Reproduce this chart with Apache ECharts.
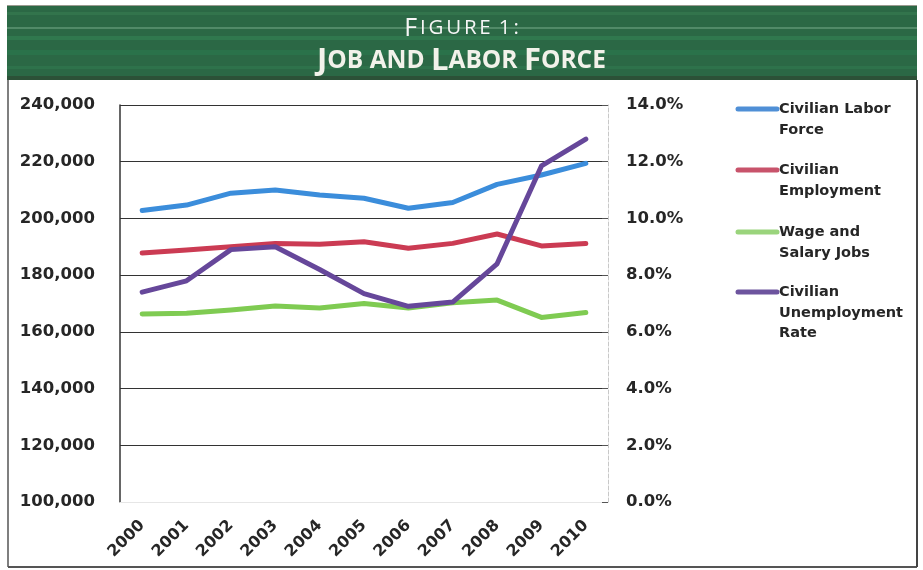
<!DOCTYPE html>
<html>
<head>
<meta charset="utf-8">
<title>Job and Labor Force</title>
<script src="https://cdn.jsdelivr.net/npm/echarts@6/dist/echarts.min.js"></script>
<style>
  html, body { margin: 0; padding: 0; background: #ffffff; }
  #chart { width: 923px; height: 570px; }
</style>
</head>
<body>
<div id="chart"></div>
<script>
// Years on the category axis
const years = ['2000', '2001', '2002', '2003', '2004', '2005', '2006', '2007', '2008', '2009', '2010'];

// Workforce counts (left axis)
const laborForce = [202800, 204700, 208900, 210000, 208300, 207100, 203600, 205600, 212000, 215300, 219400];
const employment = [187800, 188900, 190000, 191200, 190900, 191800, 189500, 191200, 194500, 190300, 191200];
const wageSalaryJobs = [166300, 166600, 167700, 169100, 168400, 170000, 168400, 170300, 171200, 165100, 166800];

// Unemployment rate in percent (right axis)
const unemploymentRate = [7.4, 7.8, 8.9, 9.0, 8.2, 7.35, 6.9, 7.05, 8.4, 11.85, 12.8];

// Series names as shown in the key, with their line breaks
const seriesNames = ['Civilian Labor\nForce', 'Civilian\nEmployment', 'Wage and\nSalary Jobs', 'Civilian\nUnemployment\nRate'];
const seriesColors = ['#3b8ddb', '#cb3b53', '#7fcb52', '#66479a'];
const legendColors = ['#4f8fd6', '#c8536b', '#9ad47c', '#6d549e'];

// Left and right tick values
const leftTicks = [100000, 120000, 140000, 160000, 180000, 200000, 220000, 240000];
const rightTicks = [0, 2, 4, 6, 8, 10, 12, 14];

// Heading lines (set in small caps)
const headingLine1 = 'Figure 1:';
const headingLine2 = 'Job and Labor Force';

const chart = echarts.init(document.getElementById('chart'));
const FONT = 'DejaVu Sans';
const INK = '#262626';

// Key on the right: line swatch beside wrapped text
const legendTops = [109, 170, 232, 292];
const legendGraphics = [];
seriesNames.forEach((name, i) => {
  legendGraphics.push({
    type: 'line',
    shape: { x1: 738, y1: legendTops[i], x2: 777, y2: legendTops[i] },
    style: { stroke: legendColors[i], lineWidth: 5, lineCap: 'round' }
  });
  legendGraphics.push({
    type: 'text',
    left: 779,
    top: legendTops[i] - 10,
    style: {
      text: name,
      font: 'bold 14.5px "' + FONT + '"',
      fill: INK,
      lineHeight: 20.5
    }
  });
});

// Banner with faint horizontal banding
const bannerBands = [
  { y: 12, h: 3, c: 'rgba(70,150,100,0.25)' },
  { y: 27, h: 2, c: 'rgba(170,220,185,0.30)' },
  { y: 36, h: 4, c: 'rgba(60,160,100,0.30)' },
  { y: 50, h: 5, c: 'rgba(40,140,85,0.30)' },
  { y: 66, h: 3, c: 'rgba(60,150,100,0.22)' },
  { y: 76, h: 4, c: 'rgba(45,40,30,0.35)' }
];
const bannerGraphics = [
  { type: 'rect', shape: { x: 7, y: 6, width: 910, height: 74 }, style: { fill: '#2b6845' } },
  { type: 'line', shape: { x1: 7, y1: 5.5, x2: 917, y2: 5.5 }, style: { stroke: '#9a9a90', lineWidth: 1 } }
].concat(bannerBands.map(b => ({
  type: 'rect',
  shape: { x: 7, y: b.y, width: 910, height: b.h },
  style: { fill: b.c }
})));

// Small caps: capitals stay full size, lower-case letters become smaller capitals
function smallCaps(line, spaced) {
  let out = '';
  for (const ch of line) {
    if (ch === ' ') { out += '{sp| }'; continue; }
    const key = /[A-Z]/.test(ch) ? 'big' : 'small';
    out += '{' + key + (spaced ? 'S' : '') + '|' + ch.toUpperCase() + '}';
  }
  return out;
}

const titleGraphics = [
  {
    type: 'text', left: 'center', top: 16,
    style: {
      text: smallCaps(headingLine1, true),
      rich: {
        bigS: { fontFamily: 'Open Sans', fontSize: 25, fill: '#f6f6f6', padding: [0, 1.4] },
        smallS: { fontFamily: 'Open Sans', fontSize: 20.5, fill: '#f6f6f6', padding: [0, 1.4] },
        sp: { fontFamily: 'Open Sans', fontSize: 20.5 }
      }
    }
  },
  {
    type: 'text', left: 'center', top: 46,
    style: {
      text: smallCaps(headingLine2, false),
      rich: {
        big: { fontFamily: 'Open Sans', fontSize: 31, fontWeight: 'bold', fill: '#f2f2ea' },
        small: { fontFamily: 'Open Sans', fontSize: 24.5, fontWeight: 'bold', fill: '#f2f2ea' },
        sp: { fontFamily: 'Open Sans', fontSize: 24.5, fontWeight: 'bold' }
      }
    }
  }
];

// Outer frame of the figure
const frameGraphics = [
  { type: 'line', shape: { x1: 8, y1: 80, x2: 8, y2: 567 }, style: { stroke: '#555', lineWidth: 1.5 } },
  { type: 'line', shape: { x1: 8, y1: 567, x2: 917, y2: 567 }, style: { stroke: '#555', lineWidth: 2 } },
  { type: 'line', shape: { x1: 917, y1: 80, x2: 917, y2: 567 }, style: { stroke: '#444', lineWidth: 2 } }
];

const option = {
  backgroundColor: '#ffffff',
  animation: false,
  grid: { left: 120, right: 315, top: 105, bottom: 68, containLabel: false },
  xAxis: {
    type: 'category',
    data: years,
    boundaryGap: true,
    axisLine: { show: true, lineStyle: { color: '#e6e6e6', width: 1 } },
    axisTick: { show: false },
    axisLabel: {
      rotate: 45,
      margin: 21,
      fontFamily: FONT,
      fontSize: 16,
      fontWeight: 'bold',
      color: INK
    },
    splitLine: { show: false }
  },
  yAxis: [
    {
      type: 'value',
      min: leftTicks[0],
      max: leftTicks[leftTicks.length - 1],
      interval: leftTicks[1] - leftTicks[0],
      position: 'left',
      axisLine: { show: true, lineStyle: { color: '#333333', width: 1.5 } },
      axisTick: { show: false },
      axisLabel: {
        margin: 25,
        fontFamily: FONT,
        fontSize: 16.5,
        fontWeight: 'bold',
        color: INK,
        formatter: v => v.toLocaleString('en-US')
      },
      splitLine: { show: true, lineStyle: { color: '#333333', width: 1 } }
    },
    {
      type: 'value',
      min: rightTicks[0],
      max: rightTicks[rightTicks.length - 1],
      interval: rightTicks[1] - rightTicks[0],
      position: 'right',
      axisLine: { show: true, lineStyle: { color: '#c8c8c8', width: 1, type: 'dashed' } },
      axisTick: { show: true, inside: true, length: 6, lineStyle: { color: '#555555' } },
      axisLabel: {
        margin: 18,
        fontFamily: FONT,
        fontSize: 16.5,
        fontWeight: 'bold',
        color: INK,
        formatter: v => v.toFixed(1) + '%'
      },
      splitLine: { show: false }
    }
  ],
  series: [
    { name: seriesNames[0], type: 'line', yAxisIndex: 0, data: laborForce },
    { name: seriesNames[1], type: 'line', yAxisIndex: 0, data: employment },
    { name: seriesNames[2], type: 'line', yAxisIndex: 0, data: wageSalaryJobs },
    { name: seriesNames[3], type: 'line', yAxisIndex: 1, data: unemploymentRate }
  ].map((s, i) => Object.assign(s, {
    showSymbol: false,
    symbol: 'none',
    lineStyle: { color: seriesColors[i], width: 5, cap: 'round', join: 'round' },
    itemStyle: { color: seriesColors[i] },
    z: 3 + (i === 3 ? 1 : 0)
  })),
  graphic: bannerGraphics.concat(titleGraphics, frameGraphics, legendGraphics)
};

chart.setOption(option);
</script>
</body>
</html>
